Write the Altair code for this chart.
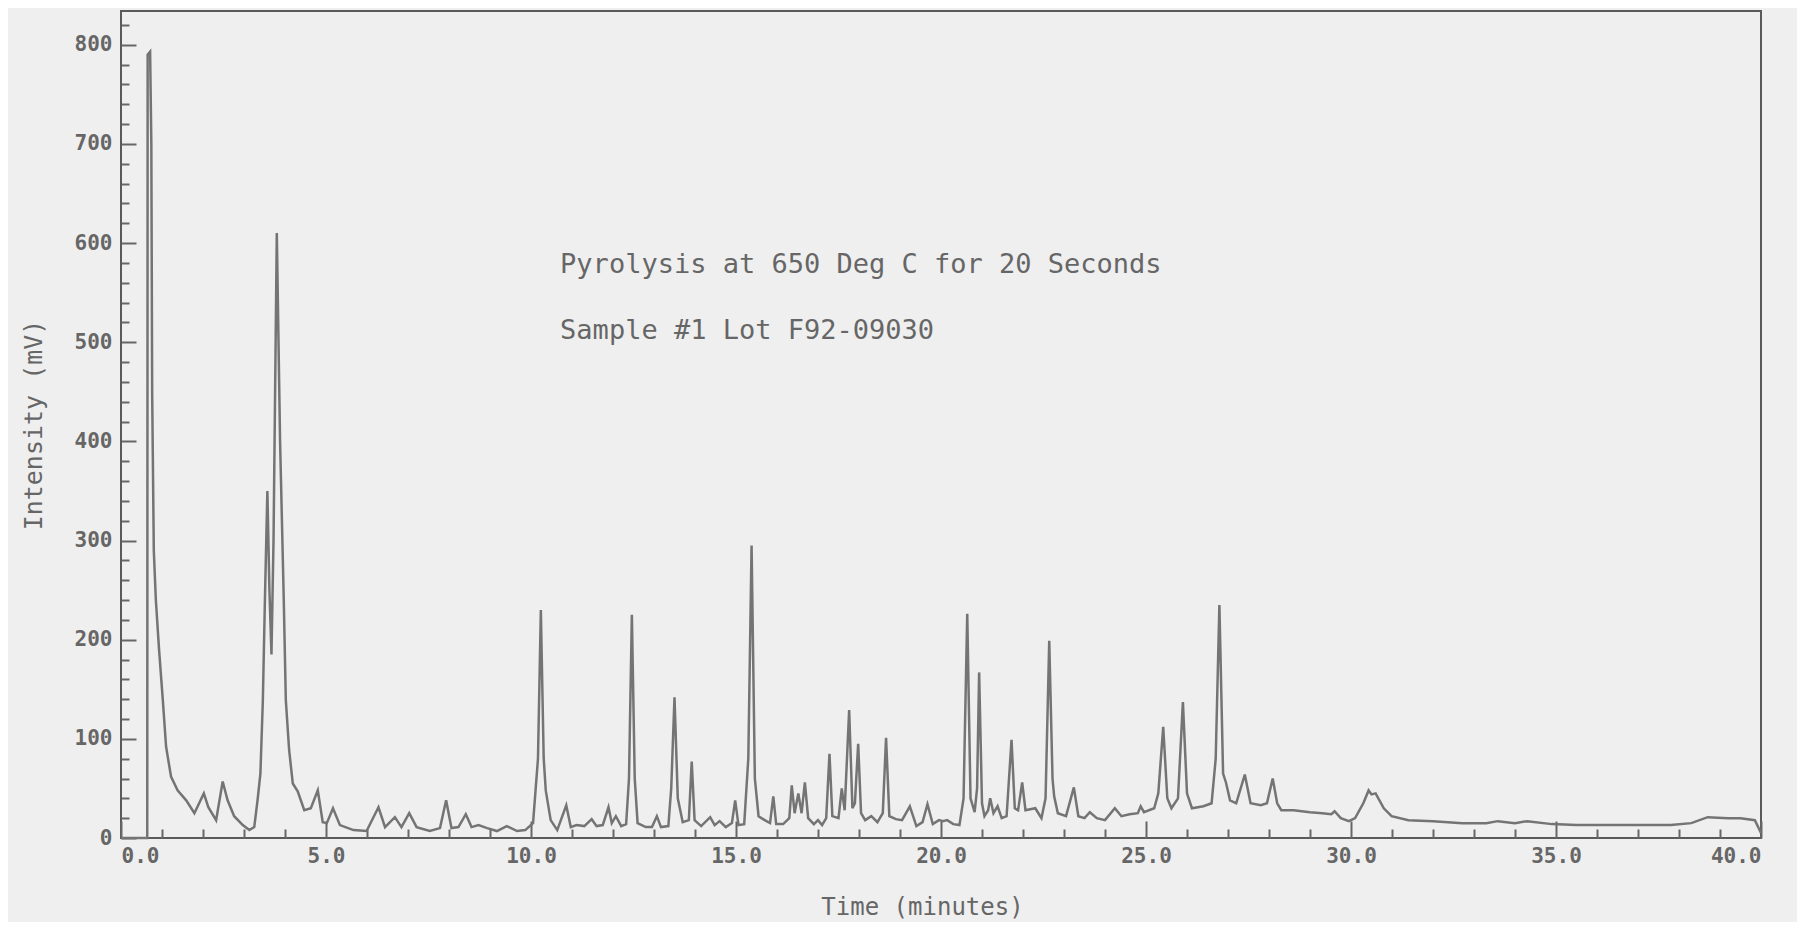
import altair as alt
import pandas as pd

# Chromatogram trace: time (minutes) and intensity (mV)
time_min = [
    0.00, 0.64, 0.65, 0.71, 0.74, 0.76, 0.80, 0.85, 0.93, 1.02, 1.10, 1.22, 1.38, 1.59, 1.79,
    2.02, 2.13, 2.32, 2.48, 2.60, 2.76, 2.97, 3.13, 3.25, 3.33, 3.40, 3.46, 3.51, 3.57, 3.62,
    3.67, 3.72, 3.80, 3.88, 3.97, 4.02, 4.10, 4.19, 4.31, 4.47, 4.63, 4.80, 4.92, 5.02, 5.17,
    5.34, 5.67, 5.99, 6.28, 6.44, 6.68, 6.84, 7.03, 7.21, 7.53, 7.78, 7.93, 8.06, 8.23, 8.41,
    8.55, 8.72, 8.93, 9.17, 9.41, 9.66, 9.86, 10.05, 10.17, 10.24, 10.31, 10.36, 10.48, 10.64,
    10.86, 10.97, 11.11, 11.30, 11.48, 11.60, 11.75, 11.89, 11.97, 12.07, 12.20, 12.32, 12.39,
    12.46, 12.53, 12.60, 12.80, 12.95, 13.07, 13.17, 13.35, 13.42, 13.50, 13.58, 13.70, 13.85,
    13.92, 13.99, 14.15, 14.37, 14.48, 14.60, 14.75, 14.90, 14.98, 15.06, 15.20, 15.30, 15.38,
    15.46, 15.55, 15.70, 15.83, 15.91, 15.98, 16.15, 16.30, 16.36, 16.43, 16.52, 16.60, 16.68,
    16.76, 16.90, 17.00, 17.10, 17.20, 17.28, 17.35, 17.50, 17.58, 17.65, 17.76, 17.84, 17.90,
    17.98, 18.05, 18.15, 18.30, 18.45, 18.58, 18.66, 18.74, 18.90, 19.05, 19.24, 19.40, 19.55,
    19.67, 19.80, 19.95, 20.05, 20.15, 20.30, 20.45, 20.55, 20.64, 20.72, 20.82, 20.88, 20.93,
    21.00, 21.06, 21.15, 21.20, 21.28, 21.38, 21.48, 21.60, 21.72, 21.80, 21.88, 21.98, 22.06,
    22.30, 22.45, 22.55, 22.64, 22.72, 22.76, 22.85, 23.05, 23.24, 23.35, 23.50, 23.63, 23.80,
    24.00, 24.24, 24.40, 24.60, 24.80, 24.87, 24.95, 25.20, 25.30, 25.42, 25.52, 25.62, 25.78,
    25.90, 26.00, 26.12, 26.40, 26.60, 26.70, 26.79, 26.88, 26.95, 27.05, 27.20, 27.41, 27.55,
    27.80, 27.95, 28.09, 28.20, 28.30, 28.60, 29.00, 29.30, 29.52, 29.60, 29.75, 29.95, 30.10,
    30.30, 30.43, 30.50, 30.60, 30.80, 30.99, 31.40, 32.00, 32.72, 33.30, 33.58, 34.00, 34.30,
    34.90, 35.50, 36.10, 37.00, 37.80, 38.30, 38.70, 39.20, 39.50, 39.85, 40.00,
]
intensity_mv = [
    0, 0, 790, 793, 700, 450, 290, 240, 189, 139, 92, 62, 48, 38, 25,
    45, 31, 18, 57, 38, 22, 13, 8, 11, 38, 65, 139, 240, 350, 250,
    185, 300, 610, 400, 240, 139, 89, 55, 47, 28, 30, 48, 16, 15, 30,
    13, 8, 7, 31, 11, 21, 11, 25, 11, 7, 10, 38, 10, 11, 24,
    11, 13, 10, 7, 12, 7, 8, 15, 80, 230, 80, 48, 18, 8,
    33, 11, 13, 12, 19, 12, 13, 31, 15, 22, 12, 14, 60,
    225, 60, 15, 11, 11, 22, 11, 12, 50, 142, 40, 16, 18,
    77, 18, 12, 21, 13, 17, 11, 15, 38, 13, 14, 80, 295,
    60, 22, 18, 15, 42, 14, 14, 20, 53, 25, 45, 25, 56,
    20, 14, 18, 13, 20, 85, 22, 20, 50, 28, 129, 30, 35,
    95, 25, 18, 22, 16, 25, 101, 22, 19, 18, 32, 12, 16,
    34, 14, 18, 17, 18, 14, 13, 40, 226, 40, 26, 50, 167,
    35, 22, 28, 40, 25, 32, 20, 22, 99, 30, 28, 56, 28,
    30, 20, 40, 199, 60, 42, 25, 22, 51, 22, 20, 26, 20,
    18, 30, 22, 24, 25, 32, 26, 30, 45, 112, 40, 30, 40,
    137, 45, 30, 32, 35, 80, 235, 65, 56, 38, 35, 64, 35,
    33, 35, 60, 35, 28, 28, 26, 25, 24, 27, 20, 17, 20,
    35, 48, 44, 45, 30, 22, 18, 17, 15, 15, 17, 15, 17,
    14, 13, 13, 13, 13, 15, 21, 20, 20, 18, 5,
]

x_major = [0, 5, 10, 15, 20, 25, 30, 35, 40]
x_minor = [1, 2, 3, 4, 6, 7, 8, 9, 11, 12, 13, 14, 16, 17, 18, 19, 21, 22, 23, 24,
           26, 27, 28, 29, 31, 32, 33, 34, 36, 37, 38, 39]
y_major = [0, 100, 200, 300, 400, 500, 600, 700, 800]
y_minor = [20, 40, 60, 80, 120, 140, 160, 180, 220, 240, 260, 280, 320, 340, 360, 380,
           420, 440, 460, 480, 520, 540, 560, 580, 620, 640, 660, 680, 720, 740, 760, 780, 820]

note_lines = ["Pyrolysis at 650 Deg C for 20 Seconds", "Sample #1 Lot F92-09030"]
note_x = [10.71, 10.71]
note_y = [570, 503]

df = pd.DataFrame({"t": time_min, "v": intensity_mv})
notes = pd.DataFrame({"t": note_x, "v": note_y, "txt": note_lines})

W, H = 1640, 827
FONT = "DejaVu Sans Mono"
GREY = "#666666"
LINE = "#747474"

xs = alt.Scale(domain=[0, 40], nice=False, zero=False)
ys = alt.Scale(domain=[0, 834], nice=False, zero=False)

main = alt.Chart(df).mark_line(color=LINE, strokeWidth=2.5).encode(
    x=alt.X("t:Q", scale=xs, axis=alt.Axis(
        orient="bottom", values=x_major, format=".1f", ticks=False, domain=False, grid=False,
        labelFont=FONT, labelFontSize=21, labelFontWeight="bold", labelColor=GREY,
        labelPadding=7, title="Time (minutes)", titleFont=FONT, titleFontSize=24,
        titleFontWeight="normal", titleColor=GREY, titleX=801, titleY=76,
        titleBaseline="alphabetic")),
    y=alt.Y("v:Q", scale=ys, axis=alt.Axis(
        orient="left", values=y_major, format="d", ticks=False, domain=False, grid=False,
        labelFont=FONT, labelFontSize=21, labelFontWeight="bold", labelColor=GREY,
        labelPadding=9, title="Intensity (mV)", titleFont=FONT, titleFontSize=25,
        titleFontWeight="normal", titleColor=GREY, titlePadding=28)),
)

major_ticks = alt.Chart(df).mark_line(opacity=0).encode(
    x=alt.X("t:Q", scale=xs, axis=alt.Axis(
        orient="top", offset=-H, values=x_major, labels=False, domain=False, grid=False,
        ticks=True, tickSize=17, tickWidth=2, tickColor=GREY, title="")),
    y=alt.Y("v:Q", scale=ys, axis=alt.Axis(
        orient="right", offset=-W, values=y_major, labels=False, domain=False, grid=False,
        ticks=True, tickSize=15, tickWidth=2, tickColor=GREY, title="")),
)

minor_ticks = alt.Chart(df).mark_line(opacity=0).encode(
    x=alt.X("t:Q", scale=xs, axis=alt.Axis(
        orient="top", offset=-H, values=x_minor, labels=False, domain=False, grid=False,
        ticks=True, tickSize=9, tickWidth=2, tickColor=GREY, title="")),
    y=alt.Y("v:Q", scale=ys, axis=alt.Axis(
        orient="right", offset=-W, values=y_minor, labels=False, domain=False, grid=False,
        ticks=True, tickSize=8, tickWidth=2, tickColor=GREY, title="")),
)

text = alt.Chart(notes).mark_text(
    font=FONT, fontSize=27, color=GREY, align="left", baseline="alphabetic"
).encode(
    x=alt.X("t:Q", scale=xs, axis=None),
    y=alt.Y("v:Q", scale=ys, axis=None),
    text="txt:N",
)

chart = alt.layer(main, major_ticks, minor_ticks, text).resolve_axis(
    x="independent", y="independent"
).properties(
    width=W, height=H,
    autosize=alt.AutoSizeParams(type="none"),
    padding={"left": 113, "top": 3, "right": 36, "bottom": 84},
    background="#efefef",
).configure_view(stroke="#5a5a5a", strokeWidth=2)

chart.save("out.html", embed_options={"renderer": "svg", "actions": False})
